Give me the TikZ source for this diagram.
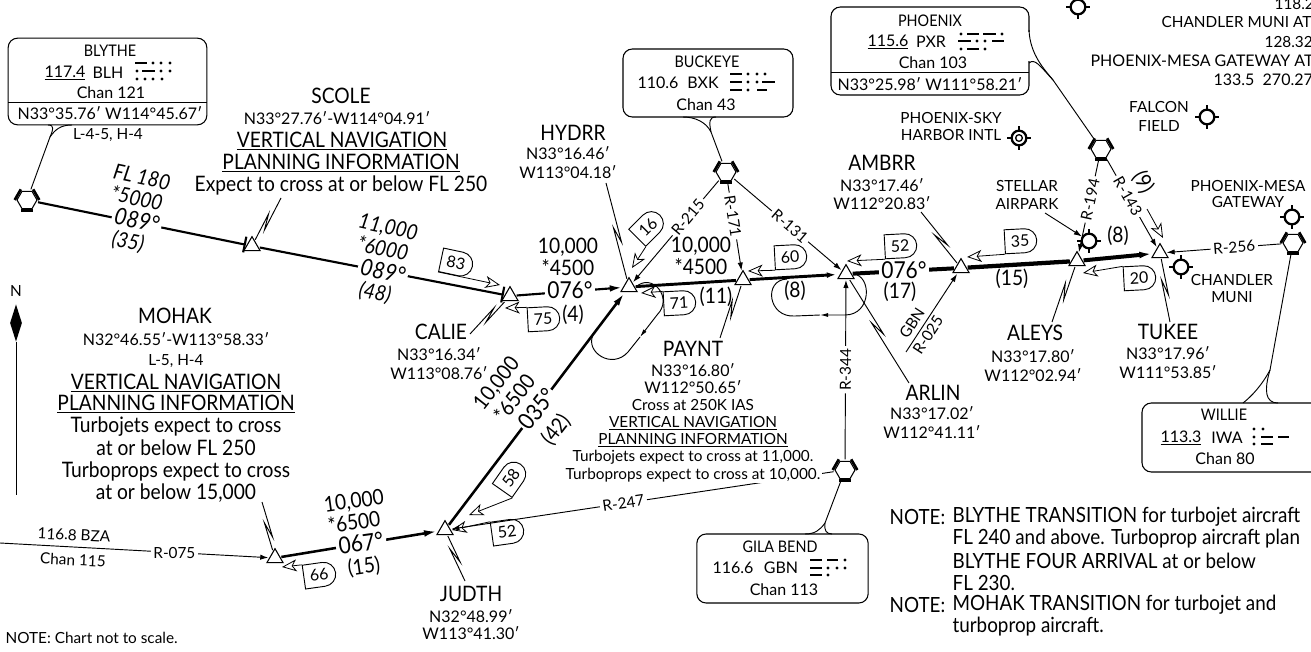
\documentclass[tikz,border=0pt]{standalone}
\usepackage{fontspec}
\setmainfont{Lato}
\newfontfamily\fixfont[FakeStretch=0.9]{Lato}
\usetikzlibrary{arrows.meta,calc,shapes.geometric,shapes.misc}

\tikzset{
	tname/.style={font=\fixfont\fontsize{16}{18}\selectfont},
	tcoord/.style={font=\fontsize{12}{14}\selectfont},
	tsub/.style={font=\fontsize{11.5}{14}\selectfont},
	tboxname/.style={font=\fixfont\fontsize{12}{14}\selectfont},
	tbig/.style={font=\fixfont\fontsize{17.5}{22}\selectfont},
	talt/.style={font=\fixfont\fontsize{16}{18}\selectfont},
	tradial/.style={font=\fontsize{11.5}{14}\selectfont, fill=white, inner sep=2pt},
	tnote/.style={font=\fixfont\fontsize{15.7}{16.5}\selectfont, anchor=west},
	waypt/.style={regular polygon, regular polygon sides=3, draw, line width=0.8pt, inner sep=0pt, outer sep=1pt, minimum size=14pt, fill=white},
	vorsym/.style={regular polygon, regular polygon sides=6, draw, line width=0.8pt, inner sep=0pt, outer sep=1.5pt, minimum size=15pt, fill=white},
	aptsym/.style={circle, draw, line width=1.7pt, inner sep=0pt, minimum size=11pt},
	navbox/.style={rectangle, draw, line width=0.8pt, rounded corners=7pt, inner sep=0pt, fill=white},
	shield/.style={rounded rectangle, rounded rectangle left arc=none, draw, line width=0.7pt, inner sep=0pt, minimum width=24pt, minimum height=18pt, font=\fontsize{12}{14}\selectfont},
	leg/.style={line width=1.6pt},
	radial/.style={line width=0.7pt, -{Latex[length=6pt,width=4pt]}},
	thinline/.style={line width=0.7pt},
	hollow/.style={line width=0.6pt, -{Stealth[open,length=11pt,width=9pt,inset=3pt]}},
	zig/.style={line width=0.7pt, to path={-- ($(\tikztostart)!.5!(\tikztotarget)!6pt!(\tikztotarget)!1.8pt!90:(\tikztotarget)$) -- ($(\tikztostart)!.5!(\tikztotarget)!-6pt!(\tikztotarget)!-1.8pt!90:(\tikztotarget)$) -- (\tikztotarget)}},
}

\newcommand{\vorhex}[2]{
	\node[vorsym] (#1) at (#2) {};
	\draw[line width=2pt] (#1.120) -- (#1.180);
	\draw[line width=2pt] (#1.240) -- (#1.300);
	\draw[line width=2pt] (#1.0) -- (#1.60);
}
\newcommand{\airport}[2]{
	\node[aptsym] (#1) at (#2) {};
	\draw[line width=1.5pt] (#1.north) -- ++(0,-4);
	\draw[line width=1.5pt] (#1.south) -- ++(0,4);
	\draw[line width=1.5pt] (#1.west) -- ++(-4,0);
	\draw[line width=1.5pt] (#1.east) -- ++(4,0);
}
% morse bars: x1/x2/y, dots: x/y
\newcommand{\morse}[2]{
	\foreach \a/\b/\y in {#1}
		\draw[line width=2.1pt] (\a,\y) -- (\b,\y);
	\foreach \x/\y in {#2}
		\fill (\x,\y) circle (1.2pt);
}

\begin{document}
\begin{tikzpicture}[x=0.75pt, y=-0.75pt]
	\tikzstyle{every node}=[inner sep=1pt, align=center]
	\useasboundingbox (0,0) rectangle (1311,652);

	% waypoints and navaids
	\node[waypt] (SCOLE) at (252,246) {};
	\node[waypt] (CALIE) at (510,296) {};
	\node[waypt] (HYDRR) at (629,287) {};
	\node[waypt] (PAYNT) at (743,280) {};
	\node[waypt] (ARLIN) at (846,274) {};
	\node[waypt] (AMBRR) at (961,268) {};
	\node[waypt] (ALEYS) at (1077,261) {};
	\node[waypt] (TUKEE) at (1160,253) {};
	\node[waypt] (JUDTH) at (445,530) {};
	\node[waypt] (MOHAK) at (275,558) {};
	\vorhex{BLH}{27,200}
	\vorhex{BXK}{726,172}
	\vorhex{PXR}{1101,149}
	\vorhex{IWA}{1293,243}
	\vorhex{GBN}{845,470}

	% free ends
	\coordinate (bza) at (0,543);
	\coordinate (gbnend) at (906,352);

	% radials
	\draw [radial] (BXK) -- (HYDRR) node[pos=.36, tradial, sloped] (r215) {R-215};
	\draw [radial] (BXK) -- (PAYNT) node[pos=.38, tradial, sloped] (r171) {R-171};
	\draw [radial] (BXK) -- (ARLIN) node[pos=.52, tradial, sloped] (r131) {R-131};
	\draw [radial] (GBN) -- (ARLIN) node[pos=.5, tradial, sloped] (r344) {R-344};
	\draw [radial] (PXR) -- (ALEYS) node[pos=.43, tradial, sloped] (r194) {R-194};
	\draw [radial] (PXR) -- (TUKEE) node[pos=.42, tradial, sloped] (r143) {R-143};
	\draw [radial] (IWA) -- (TUKEE) node[pos=.41, tradial, sloped] (r256) {R-256};
	\draw [radial] (GBN) -- (JUDTH) node[pos=.55, tradial, sloped] (r247) {R-247};
	\draw [radial] (bza) -- (MOHAK) node[pos=.65, tradial] (r075) {R-075};
	\draw [radial] (gbnend) -- (AMBRR);
	\node[tsub, rotate=57] (gbnlab) at (912,323) {GBN};
	\node[tsub, rotate=57] (r025) at (928,335) {R-025};

	% route legs
	\draw [leg, -{Bar[width=12pt]}] (BLH) -- (SCOLE);
	\draw [leg, -{Bar[width=12pt]}] (SCOLE) -- (CALIE);
	\draw [leg, -{Latex[length=9pt,width=5pt]}] (CALIE) -- (HYDRR);
	\draw [leg, line width=2.2pt] (HYDRR) -- (PAYNT);
	\draw [leg, line width=2.2pt, -{Latex[length=9pt,width=4pt]}] (PAYNT) -- (ARLIN);
	\draw [leg, line width=3pt] (ARLIN) -- (AMBRR);
	\draw [leg, line width=3.2pt] (AMBRR) -- (ALEYS);
	\draw [leg, line width=3pt, -{Latex[length=10pt,width=5pt]}] (ALEYS) -- (TUKEE);
	\draw [leg, line width=1.9pt, -{Latex[length=10pt,width=5pt]}] (JUDTH) -- (HYDRR);
	\draw [leg, line width=1.9pt, -{Latex[length=10pt,width=5pt]}] (MOHAK) -- (JUDTH);

	% holding patterns
	\coordinate (hydrrhold) at (640,337);
	\draw [thinline, -{Latex[length=6pt,width=3pt]}] (HYDRR.east) .. controls (652,272) and (674,298) .. (657,315) -- (hydrrhold);
	\draw [thinline] (hydrrhold) -- (628,352) .. controls (612,370) and (585,352) .. (593,335);
	\coordinate (arlinhold) at (820,315);
	\draw [thinline, -{Latex[length=6pt,width=3pt]}] (ARLIN.east) .. controls (872,275) and (872,315) .. (845,315) -- (arlinhold);
	\draw [thinline] (arlinhold) -- (795,316) .. controls (768,318) and (763,280) .. (787,279);

	% boxes with tails
	\coordinate (tailBLH) at (50,137);
	\coordinate (tailBXK) at (711,132);
	\coordinate (tailGBN) at (825,523);
	\coordinate (tailIWA) at (1270,370);
	\coordinate (tailPXR) at (1053,80);
	\node[navbox, minimum width=149pt, minimum height=65pt] (boxBLH) at (107.5,81.5) {};
	\draw [thinline] (tailBLH) -- (BLH);
	\draw [thinline] (tailBLH) .. controls (53,130) and (55,125) .. (48,125);
	\draw [thinline] (tailBLH) .. controls (55,130) and (60,125) .. (72,125);
	\draw [thinline] (8,102) -- (207,102);
	\node[navbox, minimum width=127.5pt, minimum height=51pt] (boxBXK) at (708,83) {};
	\draw [thinline] (BXK) -- (tailBXK);
	\draw [thinline] (tailBXK) .. controls (706,122) and (695,117) .. (683,117);
	\draw [thinline] (tailBXK) .. controls (709,122) and (709,117) .. (716,117);
	\node[navbox, minimum width=128.5pt, minimum height=51.75pt] (boxGBN) at (782.5,568.5) {};
	\draw [thinline] (GBN) -- (tailGBN);
	\draw [thinline] (tailGBN) .. controls (820,530) and (815,534) .. (805,534);
	\draw [thinline] (tailGBN) .. controls (824,530) and (826,534) .. (832,534);
	\node[navbox, minimum width=135pt, minimum height=51.75pt] (boxIWA) at (1232,437.5) {};
	\draw [thinline] (IWA) -- (tailIWA);
	\draw [thinline] (tailIWA) .. controls (1262,385) and (1252,396) .. (1243,403);
	\draw [thinline] (tailIWA) .. controls (1264,390) and (1265,403) .. (1278,403);
	\node[navbox, minimum width=148.5pt, minimum height=66pt] (boxPXR) at (930,51) {};
	\draw [white, line width=2pt] (1029,32) -- (1029,61);
	\draw [thinline] (1029,30) .. controls (1030,55) and (1045,70) .. (tailPXR);
	\draw [thinline] (1029,63) .. controls (1035,58) and (1040,66) .. (tailPXR);
	\draw [thinline] (tailPXR) -- (PXR);
	\draw [thinline] (831,72) -- (1029,72);

	% BLYTHE
	\node[tboxname] (blha) at (110,51) {BLYTHE};
	\node[tcoord] (blhb) at (65,73) {\underline{117.4}};
	\node[tcoord] (blhc) at (108,73) {BLH};
	\node[tcoord] (blhd) at (111,93) {Chan 121};
	\node[tcoord] (blhe) at (110,113) {N33°35.76′ W114°45.67′};
	\node[tsub] (blhf) at (108,135) {L-4-5, H-4};
	\morse{135/147/63, 142/155/71}{153/63, 161/63, 170/63, 137/71, 161/71, 170/71, 137/79, 145/79, 153/79, 162/79}

	% BUCKEYE
	\node[tboxname] (bxka) at (707,62) {BUCKEYE};
	\node[tcoord] (bxkb) at (658,83) {110.6};
	\node[tcoord] (bxkc) at (703,83) {BXK};
	\node[tcoord] (bxkd) at (706,105) {Chan 43};
	\morse{730/742/74, 730/742/82, 730/742/90, 762/775/82, 757/767/90}{748/74, 757/74, 765/74, 748/82, 757/82, 748/90}

	% PHOENIX
	\node[tboxname] (pxra) at (930,21) {PHOENIX};
	\node[tcoord] (pxrb) at (888,42) {\underline{115.6}};
	\node[tcoord] (pxrc) at (931,42) {PXR};
	\node[tcoord] (pxrd) at (933,63) {Chan 103};
	\node[tcoord] (pxre) at (930,84) {N33°25.98′ W111°58.21′};
	\morse{967/979/34, 983/996/34, 958/971/41, 992/1004/41, 967/979/49}{961/34, 1002/34, 977/41, 985/41, 961/49, 985/49}

	% GILA BEND
	\node[tboxname] (gbna) at (780,547) {GILA BEND};
	\node[tcoord] (gbnb) at (733,568) {116.6};
	\node[tcoord] (gbnc) at (781,568) {GBN};
	\node[tcoord] (gbnd) at (784,590) {Chan 113};
	\morse{810/822/560, 810/822/568, 810/822/575, 827/838/560}{845/560, 828/568, 837/568, 845/568, 828/575}

	% WILLIE
	\node[tboxname] (iwaa) at (1224,415) {WILLIE};
	\node[tcoord] (iwab) at (1181,438) {\underline{113.3}};
	\node[tcoord] (iwac) at (1227,438) {IWA};
	\node[tcoord] (iwad) at (1225,459) {Chan 80};
	\morse{1261/1273/437, 1278/1289/437, 1261/1273/444}{1254/429, 1263/429, 1254/437, 1254/444}

	% SCOLE text
	\node[tname] (scolea) at (341,96) {SCOLE};
	\node[tcoord] (scoleb) at (337,118) {N33°27.76′-W114°04.91′};
	\node[tname] (scolec) at (342,141) {\underline{VERTICAL NAVIGATION}};
	\node[tname] (scoled) at (341,163) {\underline{PLANNING INFORMATION}};
	\node[tname] (scolee) at (341,185) {Expect to cross at or below FL 250};

	% MOHAK text
	\node[tname] (mohaka) at (175,316) {MOHAK};
	\node[tcoord] (mohakb) at (176,339) {N32°46.55′-W113°58.33′};
	\node[tsub] (mohakc) at (176,361) {L-5, H-4};
	\node[tname] (mohakd) at (176,383) {\underline{VERTICAL NAVIGATION}};
	\node[tname] (mohake) at (176,404) {\underline{PLANNING INFORMATION}};
	\node[tname] (mohakf) at (176,427) {Turbojets expect to cross};
	\node[tname] (mohakg) at (176,448) {at or below FL 250};
	\node[tname] (mohakh) at (176,471) {Turboprops expect to cross};
	\node[tname] (mohaki) at (176,493) {at or below 15,000};

	% fix names
	\node[tname] (hydrra) at (573,133) {HYDRR};
	\node[tcoord] (hydrrb) at (568,153) {N33°16.46′};
	\node[tcoord] (hydrrc) at (568,172) {W113°04.18′};
	\node[tname] (caliea) at (441,332) {CALIE};
	\node[tcoord] (calieb) at (439,354) {N33°16.34′};
	\node[tcoord] (caliec) at (439,373) {W113°08.76′};
	\node[tname] (paynta) at (693,349) {PAYNT};
	\node[tcoord] (payntb) at (693,370) {N33°16.80′};
	\node[tcoord] (payntc) at (693,387) {W112°50.65′};
	\node[tsub] (payntd) at (693,405) {Cross at 250K IAS};
	\node[tsub] (paynte) at (693,423) {\underline{VERTICAL NAVIGATION}};
	\node[tsub] (payntf) at (693,440) {\underline{PLANNING INFORMATION}};
	\node[tsub, fill=white] (payntg) at (693,457) {Turbojets expect to cross at 11,000.};
	\node[tsub, fill=white] (paynth) at (693,475) {Turboprops expect to cross at 10,000.};
	\node[tname] (ambrra) at (882,163) {AMBRR};
	\node[tcoord] (ambrrb) at (882,185) {N33°17.46′};
	\node[tcoord] (ambrrc) at (882,203) {W112°20.83′};
	\node[tname] (arlina) at (933,393) {ARLIN};
	\node[tcoord] (arlinb) at (932,413) {N33°17.02′};
	\node[tcoord] (arlinc) at (932,432) {W112°41.11′};
	\node[tname] (aleysa) at (1035,333) {ALEYS};
	\node[tcoord] (aleysb) at (1033,356) {N33°17.80′};
	\node[tcoord] (aleysc) at (1033,375) {W112°02.94′};
	\node[tname] (tukeea) at (1168,332) {TUKEE};
	\node[tcoord] (tukeeb) at (1168,353) {N33°17.96′};
	\node[tcoord] (tukeec) at (1168,372) {W111°53.85′};
	\node[tname] (judtha) at (471,594) {JUDTH};
	\node[tcoord] (judthb) at (471,616) {N32°48.99′};
	\node[tcoord] (judthc) at (471,633) {W113°41.30′};

	% leaders
	\coordinate (zSCOLE) at (281,198);
	\coordinate (zCALIE) at (470,334);
	\coordinate (zHYDRR) at (606,183);
	\coordinate (zPAYNT) at (720,338);
	\coordinate (zAMBRR) at (921,212);
	\coordinate (zARLIN) at (909,383);
	\coordinate (zALEYS) at (1052,322);
	\coordinate (zTUKEE) at (1170,322);
	\coordinate (zJUDTH) at (465,581);
	\coordinate (zMOHAK) at (262,502);
	\draw [zig] (zSCOLE) to (SCOLE);
	\draw [zig] (zCALIE) to (CALIE);
	\draw [zig] (zHYDRR) to (HYDRR);
	\draw [zig] (zPAYNT) to (PAYNT);
	\draw [zig] (zAMBRR) to (AMBRR);
	\draw [zig] (zARLIN) to (ARLIN);
	\draw [zig] (zALEYS) to (ALEYS);
	\draw [zig] (zTUKEE) to (TUKEE);
	\draw [zig] (zJUDTH) to (JUDTH);
	\draw [zig] (zMOHAK) to (MOHAK);

	% courses, these blank the leg
	\node[tbig, rotate=-12, fill=white, inner sep=2pt] (a1c) at (137,220) {\itshape 089°};
	\node[tbig, rotate=-12, fill=white, inner sep=2pt] (a2c) at (383,271) {\itshape 089°};
	\node[tbig, fill=white, inner sep=2pt] (a3c) at (570,290) {076°};
	\node[tbig, fill=white, inner sep=2pt] (a6a) at (904,270) {076°};
	\node[tbig, rotate=52, fill=white, inner sep=1pt] (a10c) at (537,409) {035°};
	\node[tbig, rotate=8, fill=white, inner sep=2pt] (a11c) at (361,543) {067°};

	% altitudes and distances
	\node[talt, rotate=-12] (a1a) at (142,177) {\itshape FL 180};
	\node[talt, rotate=-12] (a1b) at (137,198) {\itshape *5000};
	\node[talt, rotate=-12] (a1d) at (128,242) {\itshape (35)};
	\node[talt, rotate=-12] (a2a) at (388,228) {\itshape 11,000};
	\node[talt, rotate=-12] (a2b) at (383,248) {\itshape *6000};
	\node[talt, rotate=-12] (a2d) at (375,293) {\itshape (48)};
	\node[talt] (a3a) at (568,247) {10,000};
	\node[talt] (a3b) at (568,268) {*4500};
	\node[talt] (a3d) at (573,315) {(4)};
	\node[talt] (a4a) at (701,246) {10,000};
	\node[talt] (a4b) at (701,267) {*4500};
	\node[talt] (a4c) at (716,297) {(11)};
	\node[talt] (a5a) at (795,291) {(8)};
	\node[talt] (a6b) at (900,292) {(17)};
	\node[talt] (a7a) at (1012,279) {(15)};
	\node[talt] (a8a) at (1118,236) {(8)};
	\node[talt, rotate=-60] (a9a) at (1143,182) {(9)};
	\node[talt, rotate=52] (a10a) at (497,384) {10,000};
	\node[talt, rotate=52] (a10b) at (514,398) {*6500};
	\node[talt, rotate=52] (a10d) at (556,430) {(42)};
	\node[talt, rotate=8] (a11a) at (354,502) {10,000};
	\node[talt, rotate=8] (a11b) at (354,522) {*6500};
	\node[talt, rotate=8] (a11d) at (364,567) {(15)};

	% speed shields
	\node[shield, rotate=-12] (s83) at (456,263) {83};
	\node[shield, rotate=3] (s75) at (543,319) {75};
	\node[shield, rotate=45] (s16) at (648,227) {16};
	\node[shield, rotate=3] (s71) at (679,303) {71};
	\node[shield, rotate=3] (s60) at (790,257) {60};
	\node[shield, rotate=3] (s52a) at (900,246) {52};
	\node[shield, rotate=3] (s35) at (1020,241) {35};
	\node[shield, rotate=3] (s20) at (1139,278) {20};
	\node[shield, rotate=8] (s66) at (319,575) {66};
	\node[shield, rotate=55] (s58) at (511,478) {58};
	\node[shield, rotate=8] (s52b) at (507,532) {52};
	\coordinate (h83) at (500,285);
	\coordinate (h75) at (505,308);
	\coordinate (h16) at (632,268);
	\coordinate (h71) at (641,293);
	\coordinate (h60) at (748,271);
	\coordinate (h52a) at (847,261);
	\coordinate (h35) at (967,257);
	\coordinate (h20) at (1083,273);
	\coordinate (h66) at (282,567);
	\coordinate (h58) at (469,515);
	\coordinate (h52b) at (452,530);
	\coordinate (t9) at (1147,209);
	\coordinate (h9) at (1163,238);
	\draw [hollow] (s83.south west) -- (h83);
	\draw [hollow] (s75.north west) -- (h75);
	\draw [hollow] (s16.south west) -- (h16);
	\draw [hollow] (s71.north west) -- (h71);
	\draw [hollow] (s60.south west) -- (h60);
	\draw [hollow] (s52a.south west) -- (h52a);
	\draw [hollow] (s35.south west) -- (h35);
	\draw [hollow] (s20.north west) -- (h20);
	\draw [hollow] (s66.north west) -- (h66);
	\draw [hollow] (s58.south west) -- (h58);
	\draw [hollow] (s52b.north west) -- (h52b);
	\draw [hollow] (t9) -- (h9);

	% airports
	\airport{aptTop}{1078,7}
	\airport{aptFalcon}{1207,117}
	\airport{aptSky}{1019,138}
	\node[circle, draw, line width=1pt, inner sep=0pt, minimum size=5pt] (aptSkyIn) at (aptSky) {};
	\airport{aptStellar}{1089,241}
	\airport{aptMesa}{1292,217}
	\airport{aptChandler}{1181,267}
	\node[tsub] (skya) at (951,118) {PHOENIX-SKY};
	\node[tsub] (skyb) at (951,135) {HARBOR INTL};
	\node[tsub] (falcona) at (1159,107) {FALCON};
	\node[tsub] (falconb) at (1159,126) {FIELD};
	\node[tsub] (stellara) at (1027,186) {STELLAR};
	\node[tsub] (stellarb) at (1027,204) {AIRPARK};
	\node[tsub] (mesaa) at (1248,186) {PHOENIX-MESA};
	\node[tsub] (mesab) at (1248,202) {GATEWAY};
	\node[tsub] (chandlera) at (1232,280) {CHANDLER};
	\node[tsub] (chandlerb) at (1232,297) {MUNI};
	\coordinate (stellarend) at (1045,213);
	\draw [radial] (stellarend) -- (aptStellar);

	% tower frequencies
	\node[tsub, anchor=west] (frqa) at (1273,4) {118.2};
	\node[tsub, anchor=west] (frqb) at (1160,22) {CHANDLER MUNI AT};
	\node[tsub, anchor=west] (frqc) at (1263,42) {128.32};
	\node[tcoord, anchor=west] (frqd) at (1089,61) {PHOENIX-MESA GATEWAY AT};
	\node[tcoord, anchor=west] (frqe) at (1212,80) {133.5\ \ 270.27};

	% bza
	\node[tsub, rotate=-3] (bzaa) at (74,535) {116.8 BZA};
	\node[tsub, rotate=-3] (bzab) at (73,560) {Chan 115};

	% north
	\node[tsub] (north) at (16,291) {N};
	\node[diamond, fill=black, inner sep=0pt, minimum width=9pt, minimum height=28pt] (narrow) at (16,323) {};
	\coordinate (nend) at (16,495);
	\draw [thinline] (narrow) -- (nend);

	% notes
	\node[tsub, anchor=west] (notea) at (4,638) {NOTE: Chart not to scale.};
	\node[tnote] (noteb) at (888,517) {NOTE:};
	\node[tnote] (notec) at (951,517) {BLYTHE TRANSITION for turbojet aircraft};
	\node[tnote] (noted) at (951,539) {FL 240 and above. Turboprop aircraft plan};
	\node[tnote] (notee) at (951,561) {BLYTHE FOUR ARRIVAL at or below};
	\node[tnote] (notef) at (951,583) {FL 230.};
	\node[tnote] (noteg) at (888,605) {NOTE:};
	\node[tnote] (noteh) at (951,605) {MOHAK TRANSITION for turbojet and};
	\node[tnote] (notei) at (951,627) {turboprop aircraft.};
\end{tikzpicture}
\end{document}
